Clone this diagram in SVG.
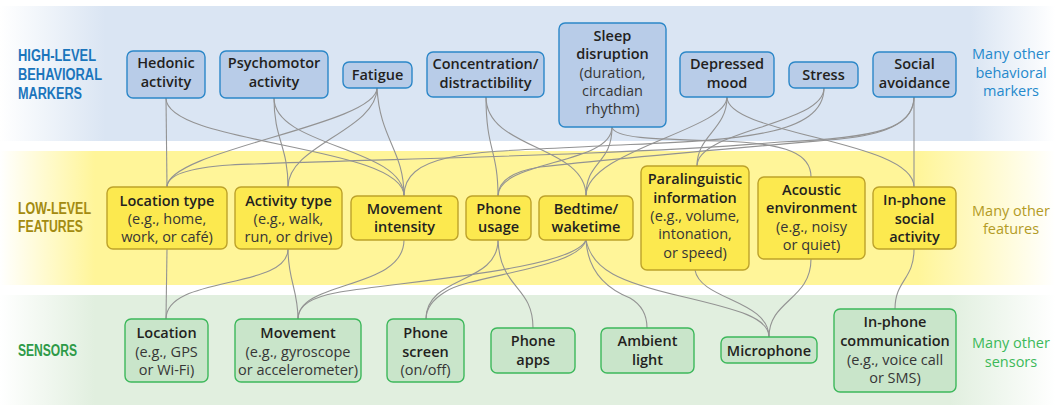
<svg xmlns="http://www.w3.org/2000/svg" width="1055" height="405" viewBox="0 0 1055 405">
<defs>
<linearGradient id="gBlue" x1="0" y1="0" x2="1" y2="0">
<stop offset="0" stop-color="#ffffff"/><stop offset="0.1" stop-color="#dae5f3"/><stop offset="0.92" stop-color="#dae5f3"/><stop offset="1" stop-color="#ffffff"/>
</linearGradient>
<linearGradient id="gYellow" x1="0" y1="0" x2="1" y2="0">
<stop offset="0" stop-color="#ffffff"/><stop offset="0.09" stop-color="#fff599"/><stop offset="0.87" stop-color="#fff599"/><stop offset="1" stop-color="#ffffff"/>
</linearGradient>
<linearGradient id="gGreen" x1="0" y1="0" x2="1" y2="0">
<stop offset="0" stop-color="#ffffff"/><stop offset="0.09" stop-color="#e1efdf"/><stop offset="0.9" stop-color="#e1efdf"/><stop offset="1" stop-color="#ffffff"/>
</linearGradient>
</defs>
<style>
text{font-family:"Open Sans","Liberation Sans",sans-serif;font-size:14.5px;text-anchor:middle}
.b{font-weight:600;fill:#231f20}
.r{font-weight:400;fill:#363636}
.hi rect{fill:#b8cce8;stroke:#2b87c8;stroke-width:1.4}
.lo rect{fill:#fce94f;stroke:#bda22a;stroke-width:1.4}
.se rect{fill:#c9e5ca;stroke:#3db85b;stroke-width:1.4}
.cat{font-family:"Liberation Sans Narrow","Liberation Sans",sans-serif;font-weight:bold;font-size:16px;text-anchor:start}
.c1{fill:#1b75bc}.c2{fill:#a38b10}.c3{fill:#2e9a48}
.m1{fill:#2589cc}.m2{fill:#b39b25}.m3{fill:#3cb95a}
#connectors path{fill:none;stroke:#939393;stroke-width:1.1}
</style>
<rect x="0" y="6" width="1055" height="135" fill="url(#gBlue)"/>
<rect x="0" y="151" width="1055" height="134" fill="url(#gYellow)"/>
<rect x="0" y="295" width="1055" height="110" fill="url(#gGreen)"/>

<g id="labels">
<text class="cat c1" x="18" y="61" textLength="78" lengthAdjust="spacingAndGlyphs">HIGH-LEVEL</text>
<text class="cat c1" x="18" y="80" textLength="84" lengthAdjust="spacingAndGlyphs">BEHAVIORAL</text>
<text class="cat c1" x="18" y="99" textLength="64" lengthAdjust="spacingAndGlyphs">MARKERS</text>
<text class="cat c2" x="18" y="214" textLength="73" lengthAdjust="spacingAndGlyphs">LOW-LEVEL</text>
<text class="cat c2" x="18" y="232" textLength="65" lengthAdjust="spacingAndGlyphs">FEATURES</text>
<text class="cat c3" x="18" y="356" textLength="59" lengthAdjust="spacingAndGlyphs">SENSORS</text>
<text class="m1" x="1011" y="59">Many other</text>
<text class="m1" x="1011" y="78">behavioral</text>
<text class="m1" x="1011" y="96">markers</text>
<text class="m2" x="1011" y="216">Many other</text>
<text class="m2" x="1011" y="234">features</text>
<text class="m3" x="1011" y="348">Many other</text>
<text class="m3" x="1011" y="367">sensors</text>
</g>

<g id="connectors">
<path d="M166,98 L167,187"/>
<path d="M166,98 C166,145 404,145 404,196"/>
<path d="M274,98 C274,140 288,145 288,187"/>
<path d="M274,98 C274,147 404,147 404,196"/>
<path d="M377,88 C377,125 167,150 167,187"/>
<path d="M377,88 C377,130 288,145 288,187"/>
<path d="M377,88 C380,140 404,150 404,196"/>
<path d="M486,97 C486,150 498,150 498,196"/>
<path d="M486,97 C486,150 586,145 586,196"/>
<path d="M612,127 C612,165 498,160 498,196"/>
<path d="M612,127 C612,165 586,160 586,196"/>
<path d="M612,127 C614,138 650,139 720,141 C790,143 811,155 811,177"/>
<path d="M727,97 C727,130 697,135 697,166"/>
<path d="M727,97 C727,130 586,150 586,196"/>
<path d="M727,97 C727,135 914,140 914,187"/>
<path d="M824,88 C824,125 697,130 697,166"/>
<path d="M824,88 C824,140 720,140 600,146 C480,152 404,150 404,196"/>
<path d="M914,97 L914,187"/>
<path d="M914,97 C913,128 880,138 780,142 C620,156 330,160 230,165 C185,168 167,176 167,187"/>
<path d="M914,97 C914,125 880,135 840,139 C760,146 620,158 540,167 C515,171 498,180 498,196"/>

<path d="M167,249 L166,319"/>
<path d="M288,249 C288,290 166,275 166,319"/>
<path d="M288,249 C288,280 298,290 298,319"/>
<path d="M404,240 C404,290 298,280 298,319"/>
<path d="M586,240 C575,268 420,280 340,292 C312,297 298,305 298,319"/>
<path d="M498,240 C498,285 426,275 426,319"/>
<path d="M586,240 C580,268 470,275 445,292 C432,300 426,308 426,319"/>
<path d="M498,240 C500,290 533,285 533,328"/>
<path d="M586,240 C588,275 610,290 630,298 C642,305 647,315 647,328"/>
<path d="M586,240 C592,270 620,282 680,296 C740,310 769,318 769,337"/>
<path d="M695,270 C700,300 769,300 769,337"/>
<path d="M811,259 C811,300 769,300 769,337"/>
<path d="M914,249 C914,280 895,280 895,309"/>
</g>

<g id="hedonic" class="hi"><rect x="127" y="51" width="78" height="47" rx="6"/><text class="b" x="166" y="68">Hedonic</text><text class="b" x="166" y="87">activity</text></g>
<g id="psychomotor" class="hi"><rect x="220" y="51" width="108" height="47" rx="6"/><text class="b" x="274" y="68">Psychomotor</text><text class="b" x="274" y="87">activity</text></g>
<g id="fatigue" class="hi"><rect x="343" y="62" width="69" height="26" rx="6"/><text class="b" x="377.5" y="80">Fatigue</text></g>
<g id="concentration" class="hi"><rect x="427" y="52" width="117" height="45" rx="6"/><text class="b" x="485.5" y="69">Concentration/</text><text class="b" x="485.5" y="88">distractibility</text></g>
<g id="sleep" class="hi"><rect x="559" y="23" width="107" height="104" rx="6"/><text class="b" x="612.5" y="41">Sleep</text><text class="b" x="612.5" y="59">disruption</text><text class="r" x="612.5" y="78">(duration,</text><text class="r" x="612.5" y="96">circadian</text><text class="r" x="612.5" y="114">rhythm)</text></g>
<g id="depressed" class="hi"><rect x="680" y="52" width="94" height="45" rx="6"/><text class="b" x="727" y="69">Depressed</text><text class="b" x="727" y="88">mood</text></g>
<g id="stress" class="hi"><rect x="789" y="62" width="69" height="26" rx="6"/><text class="b" x="823.5" y="80">Stress</text></g>
<g id="social" class="hi"><rect x="873" y="52" width="83" height="45" rx="6"/><text class="b" x="914.5" y="69">Social</text><text class="b" x="914.5" y="88">avoidance</text></g>

<g id="locationtype" class="lo"><rect x="107" y="187" width="120" height="62" rx="6"/><text class="b" x="167" y="206">Location type</text><text class="r" x="167" y="224">(e.g., home,</text><text class="r" x="167" y="242">work, or café)</text></g>
<g id="activitytype" class="lo"><rect x="235" y="187" width="107" height="62" rx="6"/><text class="b" x="288.5" y="206">Activity type</text><text class="r" x="288.5" y="224">(e.g., walk,</text><text class="r" x="288.5" y="242">run, or drive)</text></g>
<g id="movementintensity" class="lo"><rect x="351" y="196" width="107" height="44" rx="6"/><text class="b" x="404.5" y="214">Movement</text><text class="b" x="404.5" y="232">intensity</text></g>
<g id="phoneusage" class="lo"><rect x="466" y="196" width="65" height="44" rx="6"/><text class="b" x="498.5" y="214">Phone</text><text class="b" x="498.5" y="232">usage</text></g>
<g id="bedtime" class="lo"><rect x="539" y="196" width="94" height="44" rx="6"/><text class="b" x="586" y="214">Bedtime/</text><text class="b" x="586" y="232">waketime</text></g>
<g id="paralinguistic" class="lo"><rect x="641" y="166" width="108" height="104" rx="6"/><text class="b" x="695" y="184">Paralinguistic</text><text class="b" x="695" y="203">information</text><text class="r" x="695" y="221">(e.g., volume,</text><text class="r" x="695" y="239">intonation,</text><text class="r" x="695" y="258">or speed)</text></g>
<g id="acoustic" class="lo"><rect x="758" y="177" width="107" height="82" rx="6"/><text class="b" x="811.5" y="195">Acoustic</text><text class="b" x="811.5" y="213">environment</text><text class="r" x="811.5" y="232">(e.g., noisy</text><text class="r" x="811.5" y="250">or quiet)</text></g>
<g id="inphonesocial" class="lo"><rect x="873" y="187" width="83" height="62" rx="6"/><text class="b" x="914.5" y="205">In-phone</text><text class="b" x="914.5" y="224">social</text><text class="b" x="914.5" y="242">activity</text></g>

<g id="location" class="se"><rect x="125" y="319" width="83" height="63" rx="6"/><text class="b" x="166.5" y="338">Location</text><text class="r" x="166.5" y="357">(e.g., GPS</text><text class="r" x="166.5" y="375">or Wi-Fi)</text></g>
<g id="movement" class="se"><rect x="235" y="319" width="126" height="63" rx="6"/><text class="b" x="298" y="338">Movement</text><text class="r" x="298" y="357">(e.g., gyroscope</text><text class="r" x="298" y="375">or accelerometer)</text></g>
<g id="phonescreen" class="se"><rect x="387" y="319" width="77" height="63" rx="6"/><text class="b" x="425.5" y="338">Phone</text><text class="b" x="425.5" y="357">screen</text><text class="r" x="425.5" y="375">(on/off)</text></g>
<g id="phoneapps" class="se"><rect x="491" y="328" width="84" height="45" rx="6"/><text class="b" x="533" y="346">Phone</text><text class="b" x="533" y="365">apps</text></g>
<g id="ambientlight" class="se"><rect x="601" y="328" width="93" height="45" rx="6"/><text class="b" x="647.5" y="346">Ambient</text><text class="b" x="647.5" y="365">light</text></g>
<g id="microphone" class="se"><rect x="721" y="337" width="96" height="26" rx="6"/><text class="b" x="769" y="356">Microphone</text></g>
<g id="inphonecomm" class="se"><rect x="834" y="309" width="122" height="83" rx="6"/><text class="b" x="895" y="327">In-phone</text><text class="b" x="895" y="346">communication</text><text class="r" x="895" y="365">(e.g., voice call</text><text class="r" x="895" y="383">or SMS)</text></g>
</svg>
